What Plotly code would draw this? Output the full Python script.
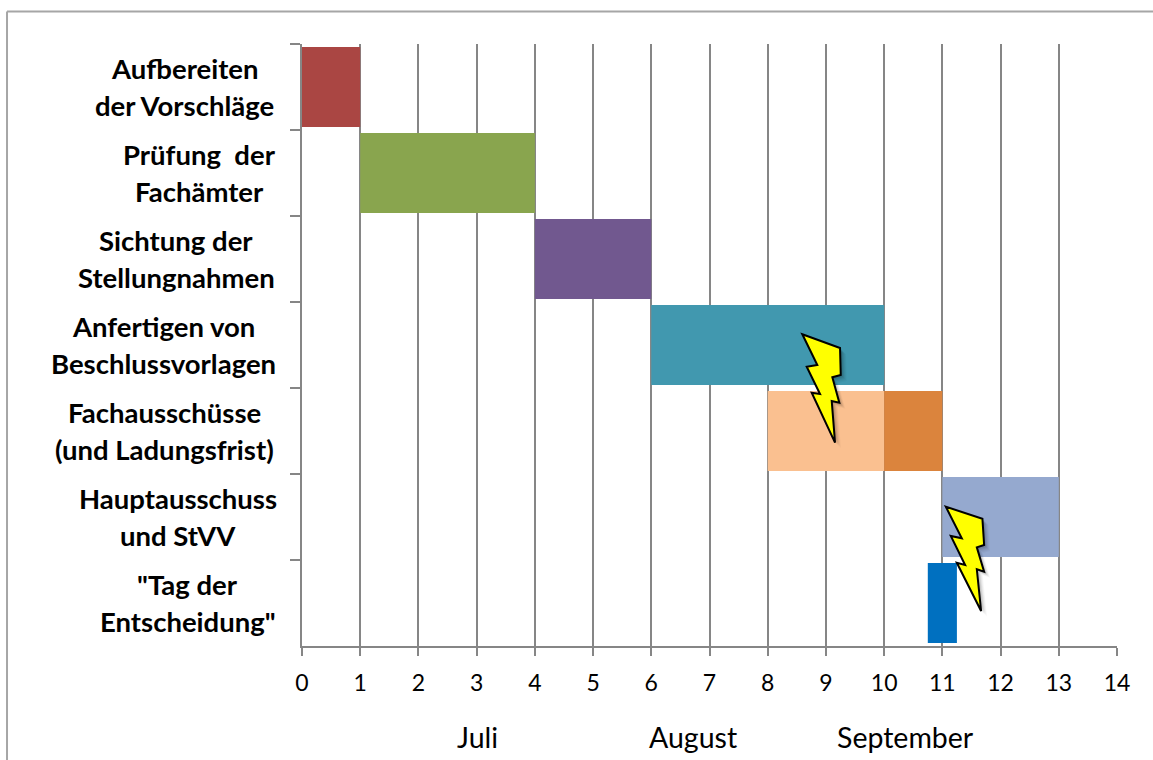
import plotly.graph_objects as go

W, H = 1153, 760
L, R, T, B = 302.3, 1116.8, 44, 646
GREY = "#868686"

tasks = ["Aufbereiten der Vorschläge", "Prüfung der Fachämter", "Sichtung der Stellungnahmen",
         "Anfertigen von Beschlussvorlagen", "Fachausschüsse (und Ladungsfrist)",
         "Hauptausschuss und StVV", '"Tag der Entscheidung"']
label_top = ["Aufbereiten", "Prüfung  der", "Sichtung der", "Anfertigen von",
             "Fachausschüsse", "Hauptausschuss", '"Tag der']
label_bottom = ["der Vorschläge", "Fachämter", "Stellungnahmen", "Beschlussvorlagen",
                "(und Ladungsfrist)", "und StVV", 'Entscheidung"']
label_center_px = [185, 200, 176.5, 164, 165, 178, 188]

seg_task = [0, 1, 2, 3, 4, 4, 5, 6]
seg_start = [0, 1, 4, 6, 8, 10, 11, 10.75]
seg_end = [1, 4, 6, 10, 10, 11, 13, 11.25]
seg_color = ["#AA4643", "#89A54E", "#71588F", "#4198AF", "#FAC090", "#DB843D", "#95A9CF", "#0070C0"]

months = ["Juli", "August", "September"]
month_center_px = [478, 693, 905]

bolt_a = [(802.3, 334.3), (840, 348), (840.7, 375), (832.3, 377.3), (839.3, 402.7), (831.7, 401),
          (835, 442.7), (811.7, 392.7), (820, 394), (806.7, 366.7), (817.3, 365)]
bolt_b = [(945.7, 506.7), (982.3, 518.7), (984, 545), (976.7, 547.3), (984, 571.7), (976.7, 569.3),
          (981, 611), (956.7, 562.7), (965, 565), (950.7, 536), (961.7, 538.3)]


def px(x):
    return (x - L) / (R - L)


def py(y):
    return (B - y) / (B - T)


def path(points, dx=0, dy=0):
    cmds = [f"{'M' if i == 0 else 'L'} {px(x + dx):.5f} {py(y + dy):.5f}" for i, (x, y) in enumerate(points)]
    return " ".join(cmds) + " Z"


fig = go.Figure()
for t, s, e, c in zip(seg_task, seg_start, seg_end, seg_color):
    fig.add_trace(go.Bar(y=[tasks[t]], x=[e - s], base=[s], orientation="h",
                         marker=dict(color=c, line=dict(width=0)), showlegend=False))

shapes = [
    dict(type="line", xref="paper", yref="paper", x0=px(7.5), x1=px(7.5), y0=py(11.5), y1=py(775),
         line=dict(color="#A6A6A6", width=2)),
    dict(type="line", xref="paper", yref="paper", x0=px(7.5), x1=px(1153), y0=py(11.5), y1=py(11.5),
         line=dict(color="#A6A6A6", width=2)),
]
for bolt in (bolt_a, bolt_b):
    for off, op in ((6, 0.03), (5, 0.04), (4, 0.05), (3, 0.07), (2, 0.08)):
        shapes.append(dict(type="path", xref="paper", yref="paper", path=path(bolt, off, off),
                           fillcolor=f"rgba(0,0,0,{op})", line=dict(width=0)))
    shapes.append(dict(type="path", xref="paper", yref="paper", path=path(bolt),
                       fillcolor="#FFFF00", line=dict(color="#000000", width=2)))

ann = []
for i in range(len(tasks)):
    for text, shift in ((label_top[i], 18.5), (label_bottom[i], -18.5)):
        ann.append(dict(x=px(label_center_px[i]), xref="paper", y=tasks[i], yref="y", yshift=shift,
                        text=f"<b>{text}</b>", showarrow=False, xanchor="center", yanchor="middle",
                        font=dict(family="Lato", size=27.5, color="#000000")))
for m, c in zip(months, month_center_px):
    ann.append(dict(x=px(c), xref="paper", y=py(737), yref="paper", text=m, showarrow=False,
                    xanchor="center", yanchor="middle",
                    font=dict(family="Lato", size=28.5, color="#000000")))

fig.update_layout(
    width=W, height=H, barmode="overlay", bargap=0.07,
    margin=dict(l=L, r=W - R, t=T, b=H - B, pad=0),
    plot_bgcolor="#FFFFFF", paper_bgcolor="#FFFFFF",
    shapes=shapes, annotations=ann, showlegend=False,
    xaxis=dict(range=[0, 14], dtick=1, tick0=0, showgrid=True, gridcolor=GREY, gridwidth=2,
               showline=True, linecolor=GREY, linewidth=2, ticks="outside", ticklen=8,
               tickcolor=GREY, tickwidth=2, zeroline=False, ticklabelstandoff=7,
               tickfont=dict(family="Lato", size=23, color="#000000")),
    yaxis=dict(categoryorder="array", categoryarray=tasks, range=[6.5, -0.5], tickson="boundaries",
               showgrid=False, showline=True, linecolor=GREY, linewidth=2, ticks="outside", ticklen=10,
               tickcolor=GREY, tickwidth=2, showticklabels=False, zeroline=False),
)
fig.write_html("out.html", config={"displayModeBar": False},
               post_script="document.body.style.margin='0';document.body.style.overflow='hidden';")
